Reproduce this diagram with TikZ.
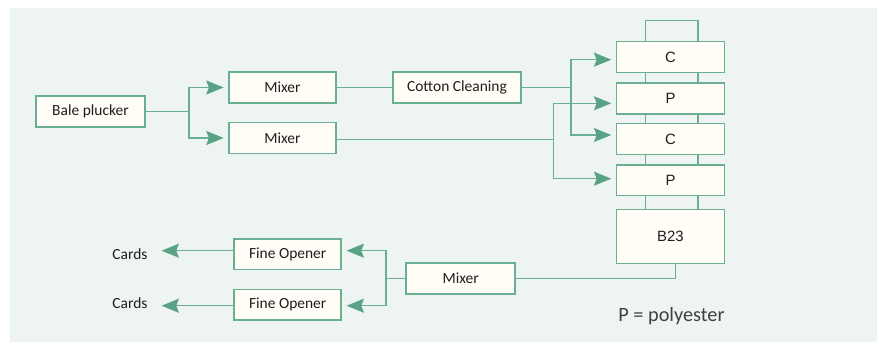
\documentclass[tikz,border=0pt]{standalone}
\usepackage{fontspec}
\setmainfont{Carlito}
\newfontfamily\arialfont{Liberation Sans}
\usetikzlibrary{arrows.meta}
\definecolor{panelbg}{HTML}{EEF4F2}
\definecolor{boxfill}{HTML}{FFFDF6}
\definecolor{edgegreen}{HTML}{6AAE93}
\definecolor{arrowgreen}{HTML}{5AA286}
\definecolor{inkdark}{HTML}{1E1E1E}
\begin{document}
\begin{tikzpicture}[x=0.75pt,y=-0.75pt,
    box/.style={draw=edgegreen,line width=1.1pt,fill=boxfill,text=inkdark,
        minimum height=23pt,inner sep=0pt,font=\fontsize{11.6}{14}\selectfont},
    layer/.style={box,minimum width=80.7pt,font=\arialfont\fontsize{11.2}{13}\selectfont},
    link/.style={draw=edgegreen,line width=1pt},
    feed/.style={link,-{Stealth[length=13pt,width=10.5pt,inset=2pt,color=arrowgreen]},shorten >=3.5pt}]
    \useasboundingbox (0,0) rectangle (877,342);
    \fill[panelbg] (10,8) rectangle (877,342);
    %% opening line
    \node[box,minimum width=81.75pt] (bale) at (90.5,111.5) {Bale plucker};
    \node[box,minimum width=80.25pt] (mixA) at (282.5,87.5) {Mixer};
    \node[box,minimum width=80.25pt] (mixB) at (282.5,138) {Mixer};
    \node[box,minimum width=96pt] (clean) at (457,87.5) {Cotton Cleaning};
    %% layered stack
    \node[layer] (c1) at (670.5,57) {C};
    \node[layer] (p1) at (670.5,98.5) {P};
    \node[layer] (c2) at (670.5,139) {C};
    \node[layer] (p2) at (670.5,180.3) {P};
    \node[layer,minimum height=40.5pt] (b23) at (670.5,236.3) {B23};
    %% delivery line
    \node[box,minimum width=81.75pt] (mixC) at (460.7,278.5) {Mixer};
    \node[box,minimum width=80.25pt] (fineA) at (287.7,254.3) {Fine Opener};
    \node[box,minimum width=80.25pt] (fineB) at (287.7,304.8) {Fine Opener};
    \node[text=inkdark,font=\fontsize{11.6}{14}\selectfont] (cardsA) at (130,254) {Cards};
    \node[text=inkdark,font=\fontsize{11.6}{14}\selectfont] (cardsB) at (130,303.5) {Cards};
    \node[text=inkdark!85,font=\fontsize{15.2}{18}\selectfont] (legend) at (671.5,316) {P = polyester};
    %% connectors
    \coordinate (jBale) at (189,111.5);
    \draw[link] (bale) -- (jBale);
    \draw[feed] (jBale) |- (mixA);
    \draw[feed] (jBale) |- (mixB);
    \draw[link] (mixA) -- (clean);
    \coordinate (jClean) at (571,87.5);
    \draw[link] (clean) -- (jClean);
    \draw[feed] (jClean) |- ([yshift=-2pt]c1.west);
    \draw[feed] (jClean) |- ([yshift=3pt]c2.west);
    \coordinate (jMix) at (553.3,139.5);
    \draw[link] (mixB.east |- jMix) -- (jMix);
    \draw[feed] (jMix) |- ([yshift=-3.6pt]p1.west);
    \draw[feed] (jMix) |- ([yshift=1.2pt]p2.west);
    \draw[link] ([xshift=-18.6pt]c1.north) -- ++(0,15.3pt) -| ([xshift=20.6pt]c1.north);
    \foreach \a/\b in {c1/p1,p1/c2,c2/p2,p2/b23} {
        \draw[link] ([xshift=-18.6pt]\a.south) -- ([xshift=-18.6pt]\b.north);
        \draw[link] ([xshift=20.6pt]\a.south) -- ([xshift=20.6pt]\b.north);
    }
    \draw[link] ([xshift=3.9pt]b23.south) |- (mixC.east);
    \coordinate (jOut) at (386,278.5);
    \draw[link] (mixC) -- (jOut);
    \coordinate (outA) at ([yshift=2.7pt]fineA.west);
    \coordinate (outB) at ([yshift=-0.7pt]fineB.west);
    \draw[feed] (jOut) |- ([yshift=2.7pt]fineA.east);
    \draw[feed] (jOut) |- ([yshift=-0.7pt]fineB.east);
    \draw[feed,shorten >=7pt] (outA) -- (cardsA.east |- outA);
    \draw[feed,shorten >=7pt] (outB) -- (cardsB.east |- outB);
\end{tikzpicture}
\end{document}
